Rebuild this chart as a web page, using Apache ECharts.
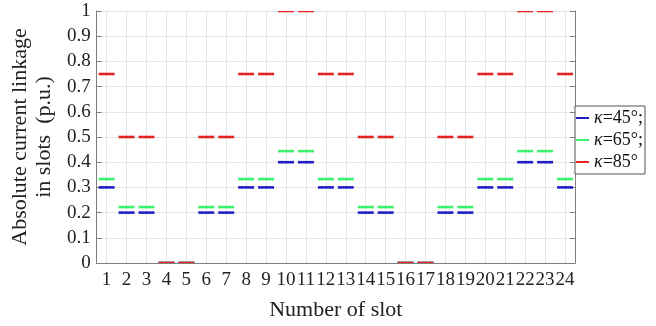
<!DOCTYPE html>
<html><head><meta charset="utf-8">
<script src="https://cdn.jsdelivr.net/npm/echarts@6/dist/echarts.min.js"></script>
<style>html,body{margin:0;padding:0;background:#fff}#c{width:656px;height:326px}</style>
</head><body><div id="c"></div>
<script>
const slots = ['1','2','3','4','5','6','7','8','9','10','11','12','13','14','15','16','17','18','19','20','21','22','23','24'];
const k45 = [0.3,0.2,0.2,0,0,0.2,0.2,0.3,0.3,0.4,0.4,0.3,0.3,0.2,0.2,0,0,0.2,0.2,0.3,0.3,0.4,0.4,0.3];
const k65 = [0.333,0.222,0.222,0,0,0.222,0.222,0.333,0.333,0.444,0.444,0.333,0.333,0.222,0.222,0,0,0.222,0.222,0.333,0.333,0.444,0.444,0.333];
const k85 = [0.75,0.5,0.5,0,0,0.5,0.5,0.75,0.75,1,1,0.75,0.75,0.5,0.5,0,0,0.5,0.5,0.75,0.75,1,1,0.75];
const seriesNames = ['κ=45°;','κ=65°;','κ=85°'];
const colors = ['#1f1fc8','#3cf070','#e32424'];

const FONT = '"Liberation Serif","Times New Roman",serif';
const axisGray = '#7f7f7f';

function seg(params, api){
  const p = api.coord([api.value(0), api.value(1)]);
  const w = api.size([1,0])[0];
  return {type:'line', shape:{x1:p[0]-0.4*w, y1:p[1], x2:p[0]+0.4*w, y2:p[1]},
    style:{stroke: api.visual('color'), lineWidth: 2.6}};
}
function mk(name, vals, color){
  return {name, type:'custom', renderItem: seg, itemStyle:{color},
    data: vals.map((v,i)=>[i,v]), encode:{x:0,y:1}, clip:true};
}

const chart = echarts.init(document.getElementById('c'), null, {renderer:'canvas'});
chart.setOption({
  animation:false,
  color: colors,
  grid:{left:92, right:81, top:11, bottom:58},
  legend:{
    orient:'vertical', right:11, top:106,
    backgroundColor:'#fff', borderColor:'#555', borderWidth:1, borderRadius:0,
    padding:[3,2,3,1], itemGap:4, itemWidth:13, itemHeight:2,
    textStyle:{fontFamily:FONT, fontSize:18, color:'#111',
      rich:{i:{fontFamily:FONT, fontStyle:'italic', fontSize:18, color:'#111'}, n:{fontFamily:FONT, fontSize:18, color:'#111'}}},
    formatter: n => '{i|κ}{n|' + n.slice(1) + '}',
    data: seriesNames.map(n=>({name:n, icon:'rect'}))
  },
  xAxis:[{
    type:'category', data:slots, position:'bottom',
    name:'Number of slot', nameLocation:'middle', nameGap:36,
    nameTextStyle:{fontFamily:FONT, fontSize:22, color:'#222'},
    axisLine:{lineStyle:{color:axisGray}},
    axisTick:{inside:true, alignWithLabel:true, length:5, lineStyle:{color:axisGray}},
    axisLabel:{fontFamily:FONT, fontSize:19, color:'#222', interval:0, margin:8},
    splitLine:{show:true, alignWithLabel:true, lineStyle:{color:'#e6e6e6'}}
  },{
    type:'category', data:slots, position:'top',
    axisLine:{lineStyle:{color:axisGray}},
    axisTick:{inside:true, alignWithLabel:true, length:5, lineStyle:{color:axisGray}},
    axisLabel:{show:false}, splitLine:{show:false}
  }],
  yAxis:[{
    type:'value', min:0, max:1, interval:0.1, position:'left',
    name:'Absolute current linkage\nin slots  (p.u.)', nameLocation:'middle', nameGap:34,
    nameTextStyle:{fontFamily:FONT, fontSize:22, color:'#222', lineHeight:24},
    axisLine:{show:true, lineStyle:{color:axisGray}},
    axisTick:{show:true, inside:true, length:5, lineStyle:{color:axisGray}},
    axisLabel:{fontFamily:FONT, fontSize:19, color:'#222', margin:6},
    splitLine:{show:true, lineStyle:{color:'#e6e6e6'}}
  },{
    type:'value', min:0, max:1, interval:0.1, position:'right',
    axisLine:{show:true, lineStyle:{color:axisGray}},
    axisTick:{show:true, inside:true, length:5, lineStyle:{color:axisGray}},
    axisLabel:{show:false}, splitLine:{show:false}
  }],
  series:[mk(seriesNames[0],k45,colors[0]), mk(seriesNames[1],k65,colors[1]), mk(seriesNames[2],k85,colors[2])]
});
</script></body></html>
